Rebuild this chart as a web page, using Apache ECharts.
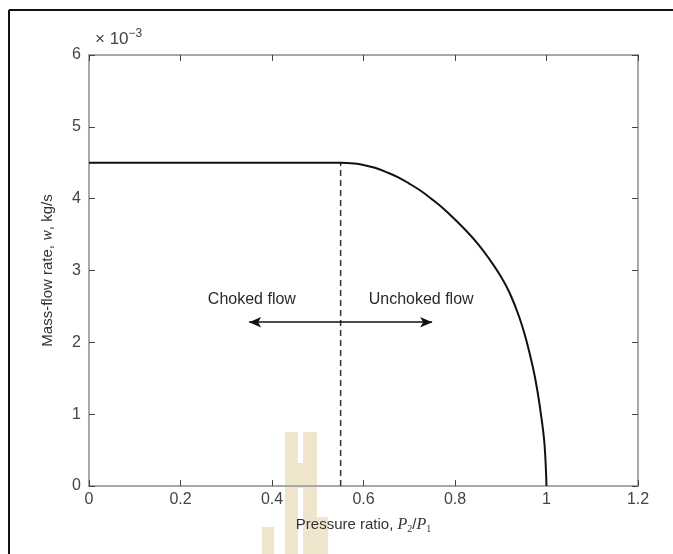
<!DOCTYPE html>
<html>
<head>
<meta charset="utf-8">
<style>
  html, body { margin: 0; padding: 0; background: #fff; }
  #chart { width: 673px; height: 554px; }
</style>
<script src="https://cdn.jsdelivr.net/npm/echarts@6/dist/echarts.min.js"></script>
</head>
<body>
<div id="chart"></div>
<script>
  // Mass-flow curve (x = P2/P1, y = w in 1e-3 kg/s)
  const flowX = [0, 0.55, 0.58, 0.6, 0.625, 0.65, 0.675, 0.7, 0.725, 0.75, 0.775, 0.8, 0.825, 0.85, 0.875, 0.9, 0.92, 0.94, 0.955, 0.97, 0.98, 0.99, 0.996, 1.0];
  const flowY = [4.5, 4.5, 4.49, 4.47, 4.43, 4.37, 4.3, 4.21, 4.11, 3.99, 3.86, 3.71, 3.55, 3.37, 3.16, 2.92, 2.68, 2.36, 2.05, 1.66, 1.33, 0.9, 0.55, 0];

  // critical pressure ratio (dashed divider)
  const chokeX = 0.55;
  const chokeTop = 4.5;

  // arrows + region labels
  const arrowY = 2.28;
  const arrowLeft = 0.35;
  const arrowRight = 0.75;
  const regionLabels = [
    { name: "Choked flow", x: 0.356, y: 2.6 },
    { name: "Unchoked flow", x: 0.726, y: 2.6 }
  ];

  const FONT = "Liberation Sans, Arial, sans-serif";
  const TXT = "#444";
  const AXIS_COL = "#a8a8a8";
  const TICK_COL = "#444";

  const chart = echarts.init(document.getElementById("chart"), null, { renderer: "canvas" });

  // onZero off so the mirrored top/right axes stay on the frame edges
  const axisCommon = {
    type: "value",
    axisLine: { show: true, onZero: false, lineStyle: { color: AXIS_COL, width: 2 } },
    axisTick: { show: true, inside: true, length: 6, lineStyle: { color: TICK_COL, width: 1 } },
    splitLine: { show: false }
  };

  const option = {
    animation: false,
    backgroundColor: "#fff",
    grid: { left: 89, right: 35, top: 55, bottom: 68, containLabel: false },

    xAxis: [
      Object.assign({}, axisCommon, {
        min: 0, max: 1.2, interval: 0.2,
        position: "bottom",
        axisLabel: { color: TXT, fontSize: 16, fontFamily: FONT, margin: 6 },
        name: "Pressure ratio, {i|P}{sub|2}/{i|P}{sub|1}",
        nameLocation: "middle",
        nameGap: 30,
        nameTextStyle: {
          color: "#333", fontSize: 15, fontFamily: FONT,
          rich: {
            i: { fontStyle: "italic", fontFamily: "Liberation Serif, serif", fontSize: 16, color: "#333" },
            sub: { fontSize: 10, verticalAlign: "bottom", padding: [8, 0, 0, 0], fontFamily: "Liberation Serif, serif", color: "#333" }
          }
        }
      }),
      Object.assign({}, axisCommon, {
        min: 0, max: 1.2, interval: 0.2,
        position: "top",
        axisLabel: { show: false }
      })
    ],

    yAxis: [
      Object.assign({}, axisCommon, {
        min: 0, max: 6, interval: 1,
        position: "left",
        axisLabel: { color: TXT, fontSize: 16, fontFamily: FONT, margin: 8 },
        name: "Mass-flow rate, {i|w}, kg/s",
        nameLocation: "middle",
        nameRotate: 90,
        nameGap: 33,
        nameTextStyle: {
          color: "#333", fontSize: 15, fontFamily: FONT,
          rich: { i: { fontStyle: "italic", fontFamily: "Liberation Serif, serif", fontSize: 16, color: "#333" } }
        }
      }),
      Object.assign({}, axisCommon, {
        min: 0, max: 6, interval: 1,
        position: "right",
        axisLabel: { show: false }
      })
    ],

    graphic: [
      // faint logo watermark behind the x-axis title
      { type: "rect", z: -1, shape: { x: 285, y: 432, width: 13, height: 122 }, style: { fill: "#efe4cc" } },
      { type: "rect", z: -1, shape: { x: 303, y: 432, width: 14, height: 122 }, style: { fill: "#efe4cc" } },
      { type: "rect", z: -1, shape: { x: 298, y: 463, width: 5, height: 25 }, style: { fill: "#efe4cc" } },
      { type: "rect", z: -1, shape: { x: 262, y: 527, width: 12, height: 27 }, style: { fill: "#efe4cc" } },
      { type: "rect", z: -1, shape: { x: 317, y: 517, width: 11, height: 37 }, style: { fill: "#efe4cc" } },
      // picture frame
      { type: "line", shape: { x1: 9, y1: 10, x2: 673, y2: 10 }, style: { stroke: "#111", lineWidth: 2 } },
      { type: "line", shape: { x1: 9, y1: 10, x2: 9, y2: 554 }, style: { stroke: "#111", lineWidth: 2 } },
      // exponent marker
      {
        type: "text", left: 95, top: 28,
        style: {
          text: "× 10{sup|−3}",
          fill: TXT, fontSize: 17, fontFamily: FONT,
          rich: { sup: { fontSize: 12, verticalAlign: "top", padding: [0, 0, 10, 0], fill: TXT, fontFamily: FONT } }
        }
      }
    ],

    series: [
      {
        name: "flow",
        type: "line",
        data: flowX.map((x, i) => [x, flowY[i]]),
        smooth: 0.4,
        showSymbol: false,
        lineStyle: { color: "#111", width: 2 },
        z: 3
      },
      {
        name: "divider",
        type: "line",
        data: [[chokeX, 0], [chokeX, chokeTop]],
        showSymbol: false,
        lineStyle: { color: "#333", width: 1.5, type: [6, 4] },
        z: 2
      },
      {
        name: "labels",
        type: "scatter",
        symbolSize: 0,
        itemStyle: { opacity: 1 },
        data: regionLabels.map(d => ({ name: d.name, value: [d.x, d.y] })),
        label: {
          show: true, position: "inside", formatter: "{b}", opacity: 1,
          color: "#2a2a2a", fontSize: 16, fontFamily: FONT
        },
        silent: true,
        markLine: {
          silent: true,
          symbol: ["none", "arrow"],
          symbolSize: [8, 12],
          label: { show: false },
          lineStyle: { color: "#111", width: 1.5, type: "solid" },
          data: [
            [{ coord: [chokeX, arrowY] }, { coord: [arrowLeft, arrowY] }],
            [{ coord: [chokeX, arrowY] }, { coord: [arrowRight, arrowY] }]
          ]
        }
      }
    ]
  };

  chart.setOption(option);
</script>
</body>
</html>
